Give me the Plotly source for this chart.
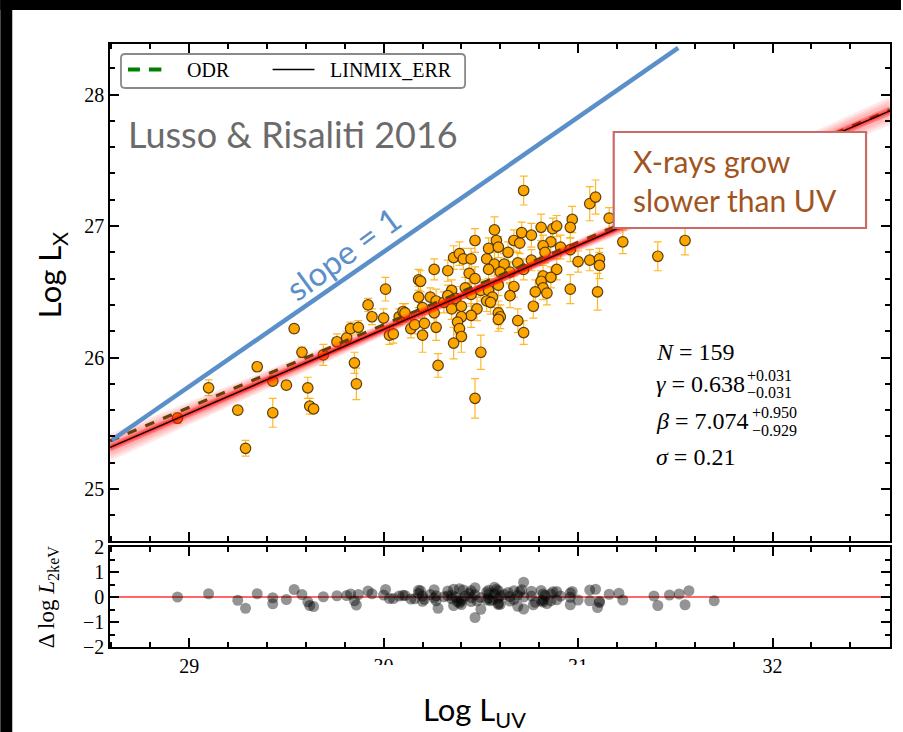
import plotly.graph_objects as go

W, H = 903, 732
ML, MR, MT, MB = 110, 11, 44, 85
PW = W - ML - MR
PH = H - MT - MB


def PX(px):
    return (px - ML) / PW


def PY(py):
    return (H - MB - py) / PH


# ---------------- data ----------------
log_luv = [28.94, 29.10, 29.25, 29.29, 29.35, 29.43, 29.43, 29.50, 29.54, 29.58,
           29.61, 29.62, 29.64, 29.69, 29.76, 29.81, 29.83, 29.87, 29.85, 29.86,
           29.92, 29.94, 30.01, 30.00, 30.03, 30.05, 30.08, 30.10, 30.14, 30.16,
           30.18, 30.19, 30.18, 30.20, 30.21, 30.24, 30.20, 30.11, 30.26, 30.33,
           30.27, 30.31, 30.26, 30.27, 30.35, 30.33, 30.37, 30.36, 30.39, 30.41,
           30.45, 30.53, 30.47, 30.57, 30.58, 30.54, 30.59, 30.64, 30.72, 30.71,
           30.67, 30.70, 30.76, 30.81, 30.87, 30.89, 30.97, 30.96, 31.06, 31.09,
           31.16, 30.86, 30.82, 30.91, 30.83, 30.96, 30.57, 30.62, 30.69, 31.00,
           31.06, 31.11, 31.11, 30.76, 30.44, 30.47, 30.54, 30.60, 30.65, 30.72,
           30.89, 30.82, 30.81, 30.86, 30.82, 30.78, 30.84, 30.96, 31.10, 30.42,
           30.45, 30.50, 30.54, 30.56, 30.53, 30.59, 30.67, 30.65, 30.35, 30.40,
           30.48, 30.55, 30.59, 30.60, 30.59, 30.69, 30.77, 30.45, 30.40, 30.38,
           30.39, 30.40, 30.72, 30.36, 30.50, 30.28, 30.47, 31.23, 31.41, 31.55,
           31.39, 31.21, 31.47, 31.52, 31.57, 31.70]
log_lx = [25.54, 25.77, 25.60, 25.31, 25.93, 25.58, 25.82, 25.79, 26.22, 26.04,
          25.77, 25.63, 25.61, 26.02, 26.12, 26.15, 26.22, 26.23, 25.96, 25.80,
          26.40, 26.31, 26.52, 26.30, 26.17, 26.18, 26.31, 26.35, 26.22, 26.25,
          26.59, 26.58, 26.46, 26.17, 26.26, 26.46, 26.38, 26.34, 26.67, 26.66,
          26.43, 26.42, 26.34, 26.23, 26.51, 26.47, 26.45, 26.76, 26.79, 26.75,
          26.75, 26.75, 26.89, 26.97, 26.89, 26.83, 26.84, 26.80, 27.27, 26.95,
          26.89, 26.87, 26.93, 26.99, 26.98, 27.00, 27.05, 26.99, 27.17, 27.22,
          27.06, 26.88, 26.85, 26.84, 26.80, 26.82, 26.71, 26.71, 26.72, 26.73,
          26.74, 26.75, 26.70, 26.74, 26.64, 26.60, 26.67, 26.65, 26.65, 26.67,
          26.67, 26.62, 26.58, 26.61, 26.53, 26.50, 26.49, 26.52, 26.50, 26.53,
          26.48, 26.51, 26.51, 26.46, 26.43, 26.55, 26.54, 26.47, 26.37, 26.39,
          26.37, 26.42, 26.34, 26.31, 26.29, 26.28, 26.39, 26.32, 26.31, 26.27,
          26.22, 26.16, 26.19, 26.11, 26.04, 25.94, 25.69, 26.88, 26.77, 26.89,
          27.14, 27.14, 27.23, 27.30, 27.46, 27.15]
log_lx_err = [0.04, 0.06, 0.03, 0.06, 0.03, 0.11, 0.03, 0.03, 0.03, 0.04,
              0.08, 0.06, 0.03, 0.08, 0.06, 0.05, 0.05, 0.05, 0.08, 0.12,
              0.05, 0.06, 0.09, 0.07, 0.07, 0.07, 0.06, 0.06, 0.07, 0.07,
              0.08, 0.08, 0.08, 0.13, 0.07, 0.07, 0.08, 0.07, 0.08, 0.08,
              0.09, 0.08, 0.08, 0.10, 0.08, 0.08, 0.09, 0.09, 0.09, 0.08,
              0.08, 0.09, 0.09, 0.10, 0.08, 0.08, 0.08, 0.08, 0.11, 0.08,
              0.08, 0.08, 0.09, 0.10, 0.08, 0.08, 0.10, 0.08, 0.13, 0.13,
              0.08, 0.08, 0.08, 0.09, 0.08, 0.09, 0.09, 0.08, 0.08, 0.08,
              0.08, 0.08, 0.10, 0.08, 0.08, 0.09, 0.09, 0.08, 0.08, 0.08,
              0.08, 0.08, 0.08, 0.08, 0.09, 0.09, 0.09, 0.11, 0.14, 0.08,
              0.09, 0.08, 0.09, 0.08, 0.08, 0.08, 0.08, 0.09, 0.08, 0.08,
              0.09, 0.09, 0.09, 0.09, 0.09, 0.09, 0.09, 0.09, 0.09, 0.09,
              0.09, 0.12, 0.09, 0.12, 0.13, 0.09, 0.15, 0.09, 0.11, 0.11,
              0.09, 0.09, 0.09, 0.09, 0.09, 0.09]
delta_log_l2kev = [0.00, 0.13, -0.13, -0.45, 0.13, -0.27, -0.03, -0.10, 0.30, 0.10,
                   -0.19, -0.34, -0.38, 0.01, 0.05, 0.06, 0.12, 0.10, -0.15, -0.32,
                   0.24, 0.13, 0.30, 0.08, -0.06, -0.06, 0.04, 0.07, -0.08, -0.07,
                   0.27, 0.25, 0.14, -0.17, -0.09, 0.10, 0.04, 0.06, 0.29, 0.24,
                   0.05, 0.01, -0.04, -0.15, 0.07, 0.05, 0.00, 0.31, 0.33, 0.28,
                   0.25, 0.20, 0.37, 0.39, 0.31, 0.27, 0.25, 0.18, 0.59, 0.29,
                   0.25, 0.21, 0.23, 0.26, 0.21, 0.22, 0.22, 0.16, 0.28, 0.31,
                   0.11, 0.12, 0.12, 0.04, 0.06, -0.01, 0.13, 0.10, 0.07, -0.12,
                   -0.15, -0.17, -0.22, 0.04, 0.15, 0.09, 0.11, 0.05, 0.02, 0.00,
                   -0.11, -0.12, -0.15, -0.15, -0.20, -0.21, -0.26, -0.31, -0.42, 0.04,
                   -0.02, -0.02, -0.05, -0.11, -0.12, -0.04, -0.10, -0.16, -0.07, -0.08,
                   -0.15, -0.15, -0.25, -0.29, -0.30, -0.37, -0.31, -0.18, -0.16, -0.19,
                   -0.24, -0.30, -0.48, -0.34, -0.49, -0.45, -0.82, -0.12, -0.34, -0.31,
                   0.04, 0.15, 0.08, 0.12, 0.25, -0.15]

x_range = [28.593, 32.604]
y_range = [24.605, 28.384]
res_range = [-2, 2]

fit_x = [28.593, 32.604]
linmix_gamma, linmix_beta = 0.638, 7.074
odr_gamma, odr_beta = 0.6275, 7.4235
band_gammas = [0.600, 0.610, 0.620, 0.628, 0.634, 0.638, 0.642, 0.648, 0.656, 0.666, 0.676]
band_betas = [8.235, 7.9295, 7.624, 7.3796, 7.1963, 7.074, 6.9519, 6.7686, 6.5242, 6.2187, 5.9132]
slope1_x = [28.603, 31.515]
slope1_y = [25.373, 28.354]

x_ticks = [29, 30, 31, 32]
y_ticks = [25, 26, 27, 28]
res_ticks = [-2, -1, 0, 1, 2]

SERIF = "Liberation Serif"
SANS = "Lato"

fig = go.Figure()

# data points with error bars
fig.add_trace(go.Scatter(
    x=log_luv, y=log_lx, mode="markers",
    error_y=dict(type="data", array=log_lx_err, color="rgba(255,176,20,0.9)",
                 thickness=1.2, width=4),
    marker=dict(size=10.5, color="#FFA500", line=dict(color="rgba(60,40,0,0.85)", width=1.2)),
    xaxis="x", yaxis="y", showlegend=False, hoverinfo="skip"))

# ODR (dashed green, seen through the red band)
fig.add_trace(go.Scatter(
    x=fit_x, y=[odr_gamma * v + odr_beta for v in fit_x], mode="lines",
    line=dict(color="#2a5200", width=3.2, dash="dash"),
    xaxis="x", yaxis="y", showlegend=False, hoverinfo="skip"))

# MCMC band: wide soft glow then narrower core
for g, b in zip(band_gammas, band_betas):
    fig.add_trace(go.Scatter(
        x=fit_x, y=[g * v + b for v in fit_x], mode="lines",
        line=dict(color="rgba(255,30,30,0.10)", width=7),
        xaxis="x", yaxis="y", showlegend=False, hoverinfo="skip"))
for g, b in zip(band_gammas[3:8], band_betas[3:8]):
    fig.add_trace(go.Scatter(
        x=fit_x, y=[g * v + b for v in fit_x], mode="lines",
        line=dict(color="rgba(255,0,0,0.22)", width=3.5),
        xaxis="x", yaxis="y", showlegend=False, hoverinfo="skip"))

# LINMIX_ERR
fig.add_trace(go.Scatter(
    x=fit_x, y=[linmix_gamma * v + linmix_beta for v in fit_x], mode="lines",
    line=dict(color="black", width=1.3),
    xaxis="x", yaxis="y", showlegend=False, hoverinfo="skip"))

# slope = 1 line
fig.add_trace(go.Scatter(
    x=slope1_x, y=slope1_y, mode="lines",
    line=dict(color="#5B8FC9", width=4.5),
    xaxis="x", yaxis="y", showlegend=False, hoverinfo="skip"))

# residual panel
fig.add_trace(go.Scatter(
    x=x_range, y=[0, 0], mode="lines", line=dict(color="#FF3333", width=1.5),
    xaxis="x2", yaxis="y2", showlegend=False, hoverinfo="skip"))
fig.add_trace(go.Scatter(
    x=log_luv, y=delta_log_l2kev, mode="markers",
    marker=dict(size=11, color="rgba(0,0,0,0.42)"),
    xaxis="x2", yaxis="y2", showlegend=False, hoverinfo="skip"))

axis_common = dict(
    showline=True, linewidth=1.6, linecolor="black", mirror="allticks",
    ticks="inside", ticklen=9, tickwidth=1.5, tickcolor="black",
    showgrid=False, zeroline=False,
    tickfont=dict(family=SERIF, size=20, color="black"),
)
minor_x = dict(dtick=0.2, tick0=0, ticks="inside", ticklen=5, tickwidth=1.5, tickcolor="black")

fig.update_layout(
    width=W, height=H,
    margin=dict(l=ML, r=MR, t=MT, b=MB),
    paper_bgcolor="white", plot_bgcolor="white",
    xaxis=dict(axis_common, domain=[0, 1], anchor="y", range=x_range,
               tickvals=x_ticks, showticklabels=False, matches="x2", minor=minor_x),
    yaxis=dict(axis_common, domain=[(H - MB - 541) / PH, 1], anchor="x",
               range=y_range, tickvals=y_ticks, minor=minor_x),
    xaxis2=dict(axis_common, domain=[0, 1], anchor="y2", range=x_range,
                tickvals=x_ticks, minor=minor_x),
    yaxis2=dict(axis_common, domain=[0, (H - MB - 547) / PH], anchor="x2",
                range=res_range, tickvals=res_ticks,
                minor=dict(dtick=0.5, tick0=0, ticks="inside", ticklen=5,
                           tickwidth=1.5, tickcolor="black")),
)


def rounded_rect(x0, y0, x1, y1, r):
    return (f"M {PX(x0 + r)},{PY(y0)} L {PX(x1 - r)},{PY(y0)} "
            f"Q {PX(x1)},{PY(y0)} {PX(x1)},{PY(y0 + r)} L {PX(x1)},{PY(y1 - r)} "
            f"Q {PX(x1)},{PY(y1)} {PX(x1 - r)},{PY(y1)} L {PX(x0 + r)},{PY(y1)} "
            f"Q {PX(x0)},{PY(y1)} {PX(x0)},{PY(y1 - r)} L {PX(x0)},{PY(y0 + r)} "
            f"Q {PX(x0)},{PY(y0)} {PX(x0 + r)},{PY(y0)} Z")


def rect(x0, y0, x1, y1, **kw):
    return dict(type="rect", xref="paper", yref="paper",
                x0=PX(x0), x1=PX(x1), y0=PY(y1), y1=PY(y0), **kw)


def seg(x0, y0, x1, y1, color, width):
    return dict(type="line", xref="paper", yref="paper", x0=PX(x0), x1=PX(x1),
                y0=PY(y0), y1=PY(y1), line=dict(color=color, width=width), layer="above")


shapes = [
    # black slide borders
    rect(0, 0, 12, H, fillcolor="black", line=dict(width=0), layer="above"),
    rect(0, 0, W, 10, fillcolor="black", line=dict(width=0), layer="above"),
    # legend box
    dict(type="path", xref="paper", yref="paper", path=rounded_rect(121, 54, 466, 88, 4),
         fillcolor="white", line=dict(color="#8a8a8a", width=1.8), layer="above"),
    seg(128, 69.5, 140, 69.5, "#008000", 4),
    seg(149, 69.5, 161.5, 69.5, "#008000", 4),
    seg(273, 69.5, 315, 69.5, "black", 1.5),
    # callout box
    rect(615, 132, 868, 228, fillcolor="white", line=dict(color="#C96B66", width=2.2),
         layer="above"),
    # slide text box hiding lower part of two tick labels
    rect(335, 665, 625, 700, fillcolor="white", line=dict(width=0), layer="above"),
]
fig.update_layout(shapes=shapes)


def ann(px, py, text, size, family, color="black", xanchor="left", yanchor="middle", angle=0):
    return dict(x=PX(px), y=PY(py), xref="paper", yref="paper", text=text,
                showarrow=False, xanchor=xanchor, yanchor=yanchor, textangle=angle,
                font=dict(family=family, size=size, color=color), align="left")


annotations = [
    ann(185, 70, "ODR", 20, SERIF),
    ann(329, 70, "LINMIX_ERR", 20, SERIF),
    ann(126, 134, "Lusso &amp; Risaliti 2016", 36, SANS, color="#6b6b6b"),
    ann(632, 181, "X-rays grow<br>slower than UV", 30, SANS, color="#A0541E"),
    ann(344, 253, "slope = 1", 33, SANS, color="#5B8FC9", xanchor="center", angle=-36),
    ann(655, 352, "<i>N</i> = 159", 24, SERIF),
    ann(655, 384, "<i>γ</i> = 0.638", 24, SERIF),
    ann(747, 375, "+0.031", 16, SERIF),
    ann(747, 393, "−0.031", 16, SERIF),
    ann(655, 421, "<i>β</i> = 7.074", 24, SERIF),
    ann(752, 412, "+0.950", 16, SERIF),
    ann(752, 430, "−0.929", 16, SERIF),
    ann(655, 457, "<i>σ</i> = 0.21", 24, SERIF),
    ann(51, 275, "Log L<sub>X</sub>", 31, SANS, xanchor="center", angle=-90),
    ann(48, 597, "Δ log <i>L</i><sub>2keV</sub>", 23, SERIF, xanchor="center", angle=-90),
    ann(475, 711, "Log L<sub>UV</sub>", 31, SANS, xanchor="center"),
]
fig.update_layout(annotations=annotations)

fig.write_html("out.html")
